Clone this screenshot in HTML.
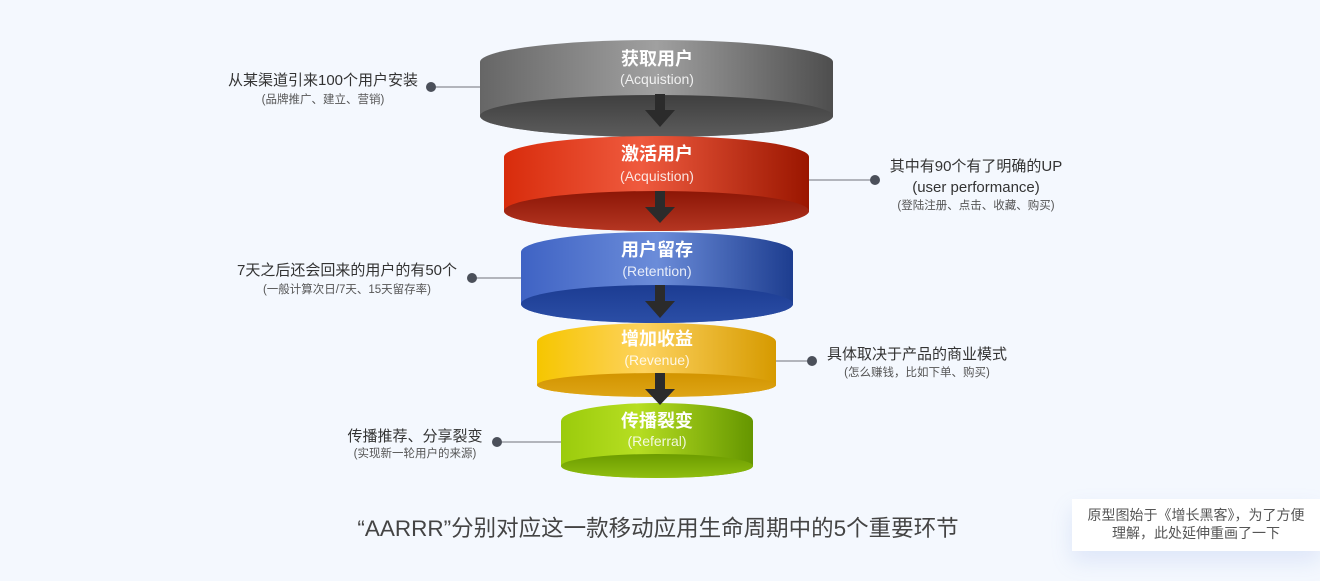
<!DOCTYPE html>
<html>
<head>
<meta charset="utf-8">
<style>
  html,body{margin:0;padding:0;}
  body{width:1320px;height:581px;background:#f4f8fe;overflow:hidden;position:relative;
    font-family:"Liberation Sans","Noto Sans CJK SC",sans-serif;}
  svg{position:absolute;left:0;top:0;}
  .note{position:absolute;left:1072px;top:499px;width:248px;height:52px;background:#fff;
    box-shadow:0 10px 22px rgba(120,150,220,0.18);
    font-size:14px;color:#555;text-align:center;line-height:18px;padding-top:7px;box-sizing:border-box;}
</style>
</head>
<body>
<svg width="1320" height="581" viewBox="0 0 1320 581" xmlns="http://www.w3.org/2000/svg"
  font-family="'Liberation Sans','Noto Sans CJK SC',sans-serif">
  <defs>
    <linearGradient id="gB" x1="0" y1="0" x2="1" y2="0">
      <stop offset="0" stop-color="#666"/><stop offset="0.5" stop-color="#a0a0a0"/><stop offset="1" stop-color="#4e4e4e"/>
    </linearGradient>
    <linearGradient id="gD" x1="0" y1="0" x2="0" y2="1">
      <stop offset="0" stop-color="#3f3f3f"/><stop offset="1" stop-color="#5c5c5c"/>
    </linearGradient>
    <linearGradient id="rB" x1="0" y1="0" x2="1" y2="0">
      <stop offset="0" stop-color="#d82c0c"/><stop offset="0.45" stop-color="#ef5a3e"/><stop offset="1" stop-color="#9a1600"/>
    </linearGradient>
    <linearGradient id="rD" x1="0" y1="0" x2="0" y2="1">
      <stop offset="0" stop-color="#8c1606"/><stop offset="1" stop-color="#b53622"/>
    </linearGradient>
    <linearGradient id="bB" x1="0" y1="0" x2="1" y2="0">
      <stop offset="0" stop-color="#3f63c4"/><stop offset="0.5" stop-color="#6b8cd9"/><stop offset="1" stop-color="#1d3d8f"/>
    </linearGradient>
    <linearGradient id="bD" x1="0" y1="0" x2="0" y2="1">
      <stop offset="0" stop-color="#1c3c92"/><stop offset="1" stop-color="#2b4ea6"/>
    </linearGradient>
    <linearGradient id="yB" x1="0" y1="0" x2="1" y2="0">
      <stop offset="0" stop-color="#f6c600"/><stop offset="0.45" stop-color="#fdd25e"/><stop offset="1" stop-color="#d69a00"/>
    </linearGradient>
    <linearGradient id="yD" x1="0" y1="0" x2="0" y2="1">
      <stop offset="0" stop-color="#d29400"/><stop offset="1" stop-color="#dea516"/>
    </linearGradient>
    <linearGradient id="vB" x1="0" y1="0" x2="1" y2="0">
      <stop offset="0" stop-color="#9bcb0c"/><stop offset="0.4" stop-color="#b6de22"/><stop offset="1" stop-color="#659600"/>
    </linearGradient>
    <linearGradient id="vD" x1="0" y1="0" x2="0" y2="1">
      <stop offset="0" stop-color="#6c9c00"/><stop offset="1" stop-color="#8fbe10"/>
    </linearGradient>
  </defs>

  <!-- connectors -->
  <g stroke="#8a8d94" stroke-width="1.2">
    <line x1="431" y1="87" x2="482" y2="87"/>
    <line x1="807" y1="180" x2="875" y2="180"/>
    <line x1="472" y1="278" x2="523" y2="278"/>
    <line x1="774" y1="361" x2="812" y2="361"/>
    <line x1="497" y1="442" x2="563" y2="442"/>
  </g>
  <g fill="#4b505a">
    <circle cx="431" cy="87" r="5"/>
    <circle cx="875" cy="180" r="5"/>
    <circle cx="472" cy="278" r="5"/>
    <circle cx="812" cy="361" r="5"/>
    <circle cx="497" cy="442" r="5"/>
  </g>

  <!-- gray -->
  <path d="M480,62 A176.5,22 0 0 1 833,62 L833,116 A176.5,21 0 0 1 480,116 Z" fill="url(#gB)"/>
  <ellipse cx="656.5" cy="116" rx="176.5" ry="21" fill="url(#gD)"/>
  <!-- red -->
  <path d="M504,157 A152.5,21 0 0 1 809,157 L809,211 A152.5,20 0 0 1 504,211 Z" fill="url(#rB)"/>
  <ellipse cx="656.5" cy="211" rx="152.5" ry="20" fill="url(#rD)"/>
  <!-- blue -->
  <path d="M521,252 A136,20 0 0 1 793,252 L793,304 A136,19 0 0 1 521,304 Z" fill="url(#bB)"/>
  <ellipse cx="657" cy="304" rx="136" ry="19" fill="url(#bD)"/>
  <!-- yellow -->
  <path d="M537,342 A119.5,19 0 0 1 776,342 L776,385 A119.5,12 0 0 1 537,385 Z" fill="url(#yB)"/>
  <ellipse cx="656.5" cy="385" rx="119.5" ry="12" fill="url(#yD)"/>
  <!-- green -->
  <path d="M561,421 A96,18 0 0 1 753,421 L753,466 A96,12 0 0 1 561,466 Z" fill="url(#vB)"/>
  <ellipse cx="657" cy="466" rx="96" ry="12" fill="url(#vD)"/>

  <!-- arrows -->
  <g fill="#2b2b2b">
    <path d="M655,94 L665,94 L665,110 L675,110 L660,127 L645,110 L655,110 Z"/>
    <path d="M655,191 L665,191 L665,207 L675,207 L660,223 L645,207 L655,207 Z"/>
    <path d="M655,285 L665,285 L665,301 L675,301 L660,318 L645,301 L655,301 Z"/>
    <path d="M655,373 L665,373 L665,389 L675,389 L660,405 L645,389 L655,389 Z"/>
  </g>

  <!-- cylinder texts -->
  <g text-anchor="middle" fill="#fff">
    <text x="657" y="65" font-size="18" font-weight="bold">获取用户</text>
    <text x="657" y="84" font-size="14" fill-opacity="0.85">(Acquistion)</text>
    <text x="657" y="160" font-size="18" font-weight="bold">激活用户</text>
    <text x="657" y="181" font-size="14" fill-opacity="0.85">(Acquistion)</text>
    <text x="657" y="256" font-size="18" font-weight="bold">用户留存</text>
    <text x="657" y="276" font-size="14" fill-opacity="0.85">(Retention)</text>
    <text x="657" y="345" font-size="18" font-weight="bold">增加收益</text>
    <text x="657" y="365" font-size="14" fill-opacity="0.85">(Revenue)</text>
    <text x="657" y="427" font-size="18" font-weight="bold">传播裂变</text>
    <text x="657" y="446" font-size="14" fill-opacity="0.85">(Referral)</text>
  </g>

  <!-- side labels -->
  <g text-anchor="middle">
    <text x="323" y="85" font-size="15" fill="#333">从某渠道引来100个用户安装</text>
    <text x="323" y="103" font-size="11.5" fill="#555">(品牌推广、建立、营销)</text>

    <text x="976" y="171" font-size="15" fill="#333">其中有90个有了明确的UP</text>
    <text x="976" y="192" font-size="15" fill="#333">(user performance)</text>
    <text x="976" y="209" font-size="11.5" fill="#555">(登陆注册、点击、收藏、购买)</text>

    <text x="347" y="275" font-size="15" fill="#333">7天之后还会回来的用户的有50个</text>
    <text x="347" y="293" font-size="11.5" fill="#555">(一般计算次日/7天、15天留存率)</text>

    <text x="917" y="359" font-size="15" fill="#333">具体取决于产品的商业模式</text>
    <text x="917" y="376" font-size="11.5" fill="#555">(怎么赚钱，比如下单、购买)</text>

    <text x="415" y="441" font-size="15" fill="#333">传播推荐、分享裂变</text>
    <text x="415" y="457" font-size="11.5" fill="#555">(实现新一轮用户的来源)</text>

    <text x="658" y="536" font-size="22.5" fill="#444">“AARRR”分别对应这一款移动应用生命周期中的5个重要环节</text>
  </g>
</svg>
<div class="note">原型图始于《增长黑客》，为了方便<br>理解，此处延伸重画了一下</div>
</body>
</html>
